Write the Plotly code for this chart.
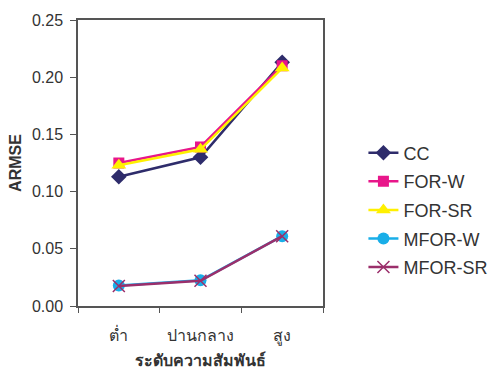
import plotly.graph_objects as go

# Correlation levels (x categories)
levels = ["ต่ำ", "ปานกลาง", "สูง"]

# ARMSE per method
cc = [0.113, 0.130, 0.213]
for_w = [0.125, 0.139, 0.210]
for_sr = [0.123, 0.137, 0.208]
mfor_w = [0.018, 0.0225, 0.061]
mfor_sr = [0.0175, 0.022, 0.061]

y_ticks = [0.00, 0.05, 0.10, 0.15, 0.20, 0.25]

series = [
    ("CC", cc, "#2E2C6B", dict(symbol="diamond", size=12)),
    ("FOR-W", for_w, "#E8168A", dict(symbol="square", size=11)),
    ("FOR-SR", for_sr, "#FFF000", dict(symbol="triangle-up", size=13)),
    ("MFOR-W", mfor_w, "#19AEE8", dict(symbol="circle", size=12)),
    ("MFOR-SR", mfor_sr, "#9B2F6B", dict(symbol="x-thin", size=12, line=dict(width=1.5, color="#9B2F6B"))),
]

fig = go.Figure()
legend_top = 0.535
legend_step = 0.1
for i, (name, vals, color, marker) in enumerate(series):
    lg = "legend" if i == 0 else f"legend{i + 1}"
    fig.add_trace(go.Scatter(
        x=levels, y=vals, name=name, mode="lines+markers",
        line=dict(color=color, width=2.5),
        marker=dict(color=color, **marker),
        legend=lg,
    ))
    fig.update_layout({lg: dict(
        x=1.165, y=legend_top - i * legend_step, xanchor="left", yanchor="middle",
        bgcolor="rgba(0,0,0,0)", font=dict(size=18, color="#333333"),
        itemwidth=30,
    )})

axis_font = dict(family="Liberation Sans, Arial, sans-serif", size=16, color="#333333")
fig.update_layout(
    width=493, height=371,
    margin=dict(l=78, r=170, t=20, b=65, autoexpand=False),
    paper_bgcolor="white", plot_bgcolor="white",
    font=dict(family="Liberation Sans, Arial, sans-serif", color="#333333"),
    showlegend=True,
)
fig.update_xaxes(
    type="category", range=[-0.5, 2.5], tickson="boundaries", ticks="outside", ticklen=5,
    tickcolor="#555555", showline=True, linecolor="#555555", linewidth=1.5,
    mirror=True, showgrid=False, tickfont=axis_font, ticklabelstandoff=14,
    automargin=False,
    title=dict(text="<b>ระดับความสัมพันธ์</b>", font=dict(size=16, color="#333333"), standoff=10),
)
fig.update_yaxes(
    range=[0, 0.25], tickvals=y_ticks, tickformat=".2f", ticks="outside", ticklen=6,
    tickcolor="#555555", showline=True, linecolor="#555555", linewidth=1.5,
    mirror=True, showgrid=False, zeroline=False, tickfont=axis_font, ticklabelstandoff=4,
    automargin=False,
    title=dict(text="<b>ARMSE</b>", font=dict(size=16, color="#333333"), standoff=6),
)

fig.write_html("out.html")
